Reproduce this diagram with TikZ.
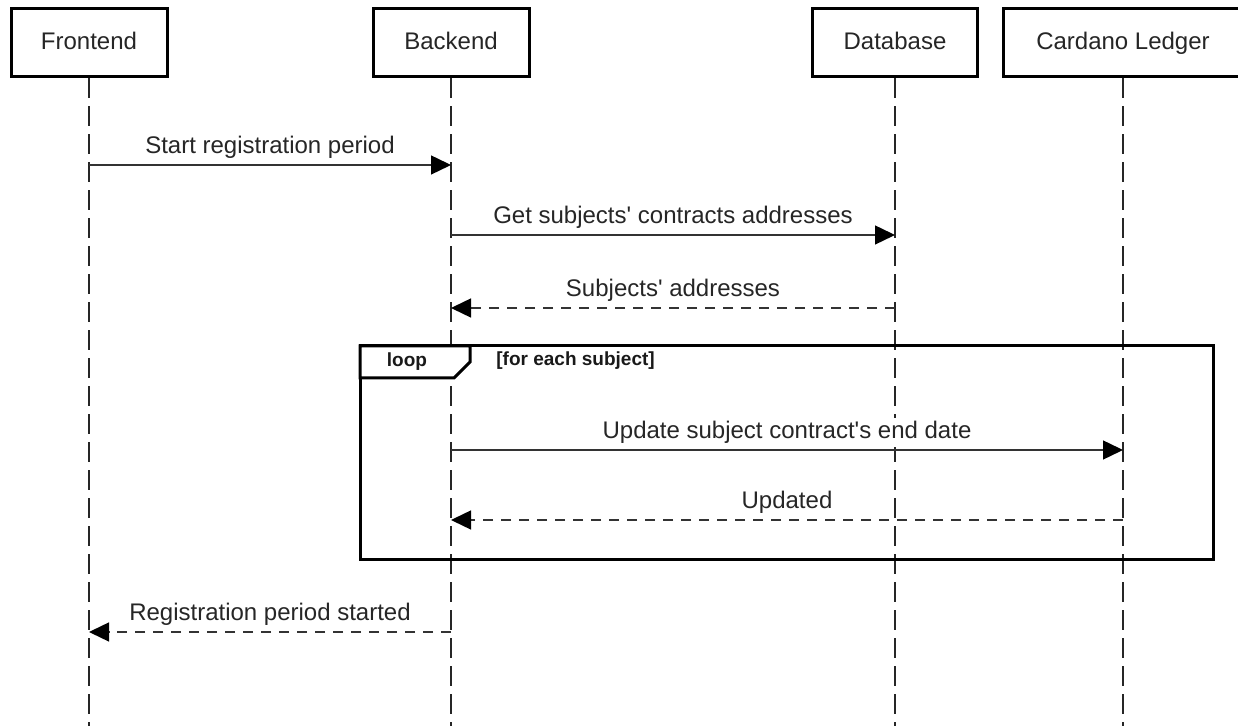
\documentclass[tikz,border=0pt]{standalone}
\usepackage{fontspec}
\setmainfont{Liberation Sans}
\usetikzlibrary{arrows.meta, calc}

\tikzset{
  actor/.style={draw, line width=1.5pt, fill=white, minimum width=#1,
    minimum height=34pt, inner sep=0pt, text=black!85,
    text height=9pt, text depth=2.5pt,
    font=\fontsize{12}{14}\selectfont},
  lifeline/.style={line width=0.9pt, black!85, dash pattern=on 10pt off 4pt},
  msg/.style={line width=0.7pt, black!80, -{Triangle[length=10pt,width=9.5pt,fill=black,color=black]}},
  reply/.style={msg, dash pattern=on 5pt off 4pt},
  msglabel/.style={font=\fontsize{12}{14}\selectfont, text=black!85, fill=white,
    text height=9pt, text depth=2.5pt, inner xsep=0pt, inner ysep=1.5pt},
  framelabel/.style={font=\fontsize{9.5}{11}\selectfont\bfseries, text=black!90, inner sep=0pt},
}

\begin{document}
\begin{tikzpicture}[x=0.5pt, y=-0.5pt]
\useasboundingbox (0,0) rectangle (1238,726);

% The participants
\node[actor=78pt] (frontend) at (89,43) {Frontend};
\node[actor=78pt] (backend) at (451,43) {Backend};
\node[actor=82.5pt] (database) at (895,43) {Database};
\node[actor=120pt] (ledger) at (1123,43) {Cardano Ledger};

% The lifelines
\foreach \p in {frontend, backend, database, ledger} {
  \coordinate (\p-end) at (\p |- 0,726);
  \draw[lifeline] (\p.south) -- (\p-end);
}

% The loop frame
\draw[line width=1.5pt] (360,346) rectangle (1213,560);
\draw[line width=1.5pt, fill=white] (360,346) -- (470,346) -- (470,362)
  -- (454,378) -- (360,378) -- cycle;
\node[framelabel] (looptag) at (407,362) {loop};
\node[framelabel, anchor=west] (loopguard) at (496,361) {[for each subject]};

% The message points
\coordinate (fe-1) at (frontend |- 0,165);
\coordinate (be-1) at (backend |- 0,165);
\coordinate (be-2) at (backend |- 0,235);
\coordinate (db-2) at (database |- 0,235);
\coordinate (db-3) at (database |- 0,308);
\coordinate (be-3) at (backend |- 0,308);
\coordinate (be-4) at (backend |- 0,450);
\coordinate (cl-4) at (ledger |- 0,450);
\coordinate (cl-5) at (ledger |- 0,520);
\coordinate (be-5) at (backend |- 0,520);
\coordinate (be-6) at (backend |- 0,632);
\coordinate (fe-6) at (frontend |- 0,632);

% The messages
\draw[msg] (fe-1) -- (be-1);
\draw[msg] (be-2) -- (db-2);
\draw[reply] (db-3) -- (be-3);
\draw[msg] (be-4) -- (cl-4);
\draw[reply] (cl-5) -- (be-5);
\draw[reply] (be-6) -- (fe-6);

% The labels, on white
\node[msglabel] (l1) at ($(fe-1)!0.5!(be-1) + (0,-17.5)$) {Start registration period};
\node[msglabel] (l2) at ($(be-2)!0.5!(db-2) + (0,-17.5)$) {Get subjects\textquotesingle{} contracts addresses};
\node[msglabel] (l3) at ($(db-3)!0.5!(be-3) + (0,-17.5)$) {Subjects\textquotesingle{} addresses};
\node[msglabel] (l4) at ($(be-4)!0.5!(cl-4) + (0,-17.5)$) {Update subject contract\textquotesingle{}s end date};
\node[msglabel] (l5) at ($(cl-5)!0.5!(be-5) + (0,-17.5)$) {Updated};
\node[msglabel] (l6) at ($(be-6)!0.5!(fe-6) + (0,-17.5)$) {Registration period started};

\end{tikzpicture}
\end{document}
